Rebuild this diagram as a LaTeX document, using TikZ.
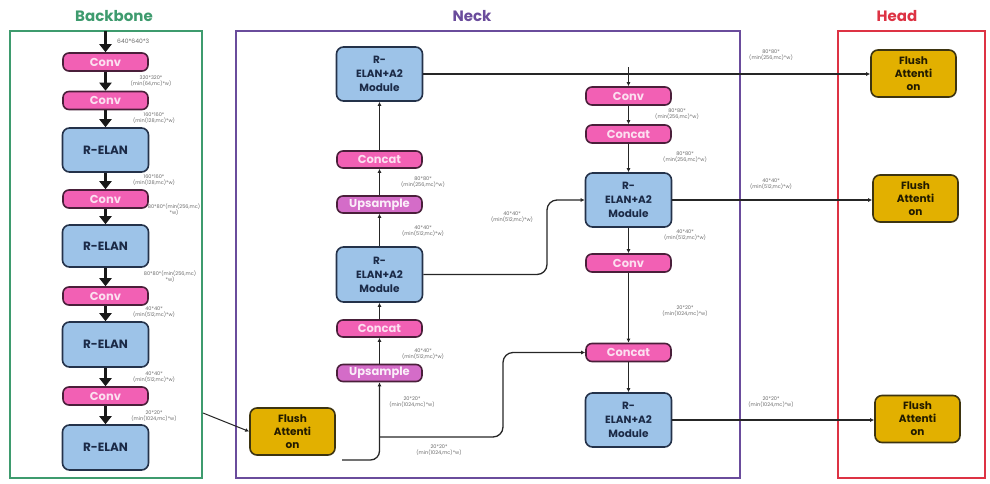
\documentclass[tikz,border=0pt]{standalone}
\usepackage{fontspec}
\setmainfont{Poppins}
\usetikzlibrary{arrows.meta,calc}
\definecolor{cpink}{HTML}{F260B4}
\definecolor{cpinkbd}{HTML}{4A1F3A}
\definecolor{cups}{HTML}{D46CC8}
\definecolor{cblue}{HTML}{9DC3E8}
\definecolor{cbluebd}{HTML}{24324A}
\definecolor{cbluetx}{HTML}{1B2A47}
\definecolor{cgold}{HTML}{E2B000}
\definecolor{cgoldbd}{HTML}{3D3410}
\definecolor{cgreen}{HTML}{3E9B6E}
\definecolor{cpurple}{HTML}{6A4C9C}
\definecolor{cred}{HTML}{DD3344}
\definecolor{clbl}{HTML}{6A6A6A}
\tikzset{
  pinkbox/.style={draw=cpinkbd, line width=1.6pt, fill=cpink, rounded corners=6pt,
    minimum width=85pt, minimum height=18pt, inner sep=0pt,
    font=\bfseries\fontsize{11.5}{12}\selectfont, text=white!80!cpink},
  upsbox/.style={pinkbox, fill=cups, text=white!88!cups},
  bluebox/.style={draw=cbluebd, line width=1.6pt, fill=cblue, rounded corners=7pt,
    minimum width=86pt, inner sep=0pt, align=center,
    font=\bfseries\fontsize{10.5}{14}\selectfont, text=cbluetx},
  bigtext/.style={font=\bfseries\fontsize{12}{14}\selectfont},
  goldbox/.style={draw=cgoldbd, line width=1.6pt, fill=cgold, rounded corners=7pt,
    minimum width=85pt, minimum height=47pt, inner sep=0pt, align=center,
    font=\bfseries\fontsize{10.5}{13}\selectfont, text=black!85!cgold},
  bbarrow/.style={draw=black!90, line width=3.4pt, -{Triangle[width=12pt,length=8pt]}},
  nkarrow/.style={draw=black!85, line width=1.3pt, -{Latex[length=4pt,width=4pt]}},
  lbl/.style={font=\fontsize{5}{5.8}\selectfont, text=clbl, align=center, inner sep=0pt},
  ttl/.style={font=\bfseries\fontsize{15}{16}\selectfont},
  frame/.style={line width=2.6pt}
}
\begin{document}
\begin{tikzpicture}[x=1pt,y=-1pt]
\useasboundingbox (0,0) rectangle (990,483);
% frames and titles
\draw[frame, cgreen] (10,31) rectangle (202,478);
\draw[frame, cpurple] (236,31) rectangle (740,478);
\draw[frame, cred] (838,31) rectangle (985,478);
\node[ttl, text=cgreen] (tb) at (114,16) {Backbone};
\node[ttl, text=cpurple] (tn) at (472,16) {Neck};
\node[ttl, text=cred] (th) at (897,16) {Head};

% backbone
\coordinate (bin) at (105.5,31);
\node[pinkbox] (c1) at (105.5,62) {Conv};
\node[pinkbox] (c2) at (105.5,100.5) {Conv};
\node[bluebox, bigtext, minimum height=44pt] (r1) at (105.5,150) {R-ELAN};
\node[pinkbox] (c3) at (105.5,199) {Conv};
\node[bluebox, bigtext, minimum height=42pt] (r2) at (105.5,246) {R-ELAN};
\node[pinkbox] (c4) at (105.5,296) {Conv};
\node[bluebox, bigtext, minimum height=45pt] (r3) at (105.5,344.5) {R-ELAN};
\node[pinkbox] (c5) at (105.5,396) {Conv};
\node[bluebox, bigtext, minimum height=45pt] (r4) at (105.5,447.5) {R-ELAN};
\draw[bbarrow] (bin) -- (c1);
\draw[bbarrow] (c1) -- (c2);
\draw[bbarrow] (c2) -- (r1);
\draw[bbarrow] (r1) -- (c3);
\draw[bbarrow] (c3) -- (r2);
\draw[bbarrow] (r2) -- (c4);
\draw[bbarrow] (c4) -- (r3);
\draw[bbarrow] (r3) -- (c5);
\draw[bbarrow] (c5) -- (r4);
\node[lbl, anchor=west, font=\fontsize{6}{7}\selectfont] (l0) at (117,41) {640*640*3};
\node[lbl] (l1) at (151,81) {320*320*\\(min(64,mc)*w)};
\node[lbl] (l2) at (154,118) {160*160*\\(min(128,mc)*w)};
\node[lbl] (l3) at (154,180) {160*160*\\(min(128,mc)*w)};
\node[lbl] (l4) at (174,210) {80*80*(min(256,mc)\\*w)};
\node[lbl] (l5) at (170,277) {80*80*(min(256,mc)\\*w)};
\node[lbl] (l6) at (154,312) {40*40*\\(min(512,mc)*w)};
\node[lbl] (l7) at (154,377) {40*40*\\(min(512,mc)*w)};
\node[lbl] (l8) at (154,416) {20*20*\\(min(1024,mc)*w)};

% neck left column
\node[goldbox] (fan) at (292.5,431.5) {Flush\\Attenti\\on};
\node[upsbox, minimum height=17pt] (u2) at (379.5,373) {Upsample};
\node[pinkbox, minimum height=17pt] (k2) at (379.5,328.5) {Concat};
\node[bluebox, minimum height=55pt] (m2) at (379.5,274.5) {R-\\ELAN+A2\\Module};
\node[upsbox, minimum height=17pt] (u1) at (379.5,204.5) {Upsample};
\node[pinkbox, minimum height=17pt] (k1) at (379.5,159.5) {Concat};
\node[bluebox, minimum height=54pt] (m1) at (379.5,74) {R-\\ELAN+A2\\Module};
\draw[nkarrow] (u2) -- (k2);
\draw[nkarrow] (k2) -- (m2);
\draw[nkarrow] (m2) -- (u1);
\draw[nkarrow] (u1) -- (k1);
\draw[nkarrow] (k1) -- (m1);

% neck right column
\node[pinkbox] (rc1) at (628.5,96) {Conv};
\node[pinkbox] (rk1) at (628.5,134) {Concat};
\node[bluebox, minimum height=54pt] (rm1) at (628.5,200) {R-\\ELAN+A2\\Module};
\node[pinkbox] (rc2) at (628.5,263) {Conv};
\node[pinkbox] (rk2) at (628.5,352.5) {Concat};
\node[bluebox, minimum height=54pt] (rm2) at (628.5,420) {R-\\ELAN+A2\\Module};
\coordinate (j3) at (628.5,67);
\draw[nkarrow] (j3) -- (rc1);
\draw[nkarrow] (rc1) -- (rk1);
\draw[nkarrow] (rk1) -- (rm1);
\draw[nkarrow] (rm1) -- (rc2);
\draw[nkarrow] (rc2) -- (rk2);
\draw[nkarrow] (rk2) -- (rm2);

% head
\node[goldbox] (h1) at (913.5,73.5) {Flush\\Attenti\\on};
\node[goldbox] (h2) at (915.5,198.5) {Flush\\Attenti\\on};
\node[goldbox] (h3) at (917.5,419) {Flush\\Attenti\\on};

% cross connectors
\coordinate (bout) at (203,413);
\draw[nkarrow, line width=1pt] (bout) -- (fan.west);
\coordinate (faout) at (342,460);
\draw[nkarrow, rounded corners=9pt] (faout) -| (u2.south);
\coordinate (j1) at (379.5,437);
\coordinate (q1) at (503,352.5);
\draw[nkarrow, rounded corners=10pt] (j1) -| (q1) -- (rk2.west);
\coordinate (q2) at (547,200);
\draw[nkarrow, rounded corners=10pt] (m2.east) -| (q2) -- (rm1.west);
\draw[nkarrow] (m1.east) -- (m1.east -| h1.west);
\draw[nkarrow] (rm1.east) -- (rm1.east -| h2.west);
\draw[nkarrow] (rm2.east) -- (rm2.east -| h3.west);

% neck labels
\node[lbl] (n1) at (423,182) {80*80*\\(min(256,mc)*w)};
\node[lbl] (n2) at (423,231) {40*40*\\(min(512,mc)*w)};
\node[lbl] (n3) at (512,217) {40*40*\\(min(512,mc)*w)};
\node[lbl] (n4) at (423,354) {40*40*\\(min(512,mc)*w)};
\node[lbl] (n5) at (412,402) {20*20*\\(min(1024,mc)*w)};
\node[lbl] (n6) at (439,450) {20*20*\\(min(1024,mc)*w)};
\node[lbl] (n7) at (677,114) {80*80*\\(min(256,mc)*w)};
\node[lbl] (n8) at (685,157) {80*80*\\(min(256,mc)*w)};
\node[lbl] (n9) at (685,235) {40*40*\\(min(512,mc)*w)};
\node[lbl] (n10) at (685,311) {20*20*\\(min(1024,mc)*w)};
\node[lbl] (n11) at (771,55) {80*80*\\(min(256,mc)*w)};
\node[lbl] (n12) at (771,184) {40*40*\\(min(512,mc)*w)};
\node[lbl] (n13) at (771,402) {20*20*\\(min(1024,mc)*w)};
\end{tikzpicture}
\end{document}
